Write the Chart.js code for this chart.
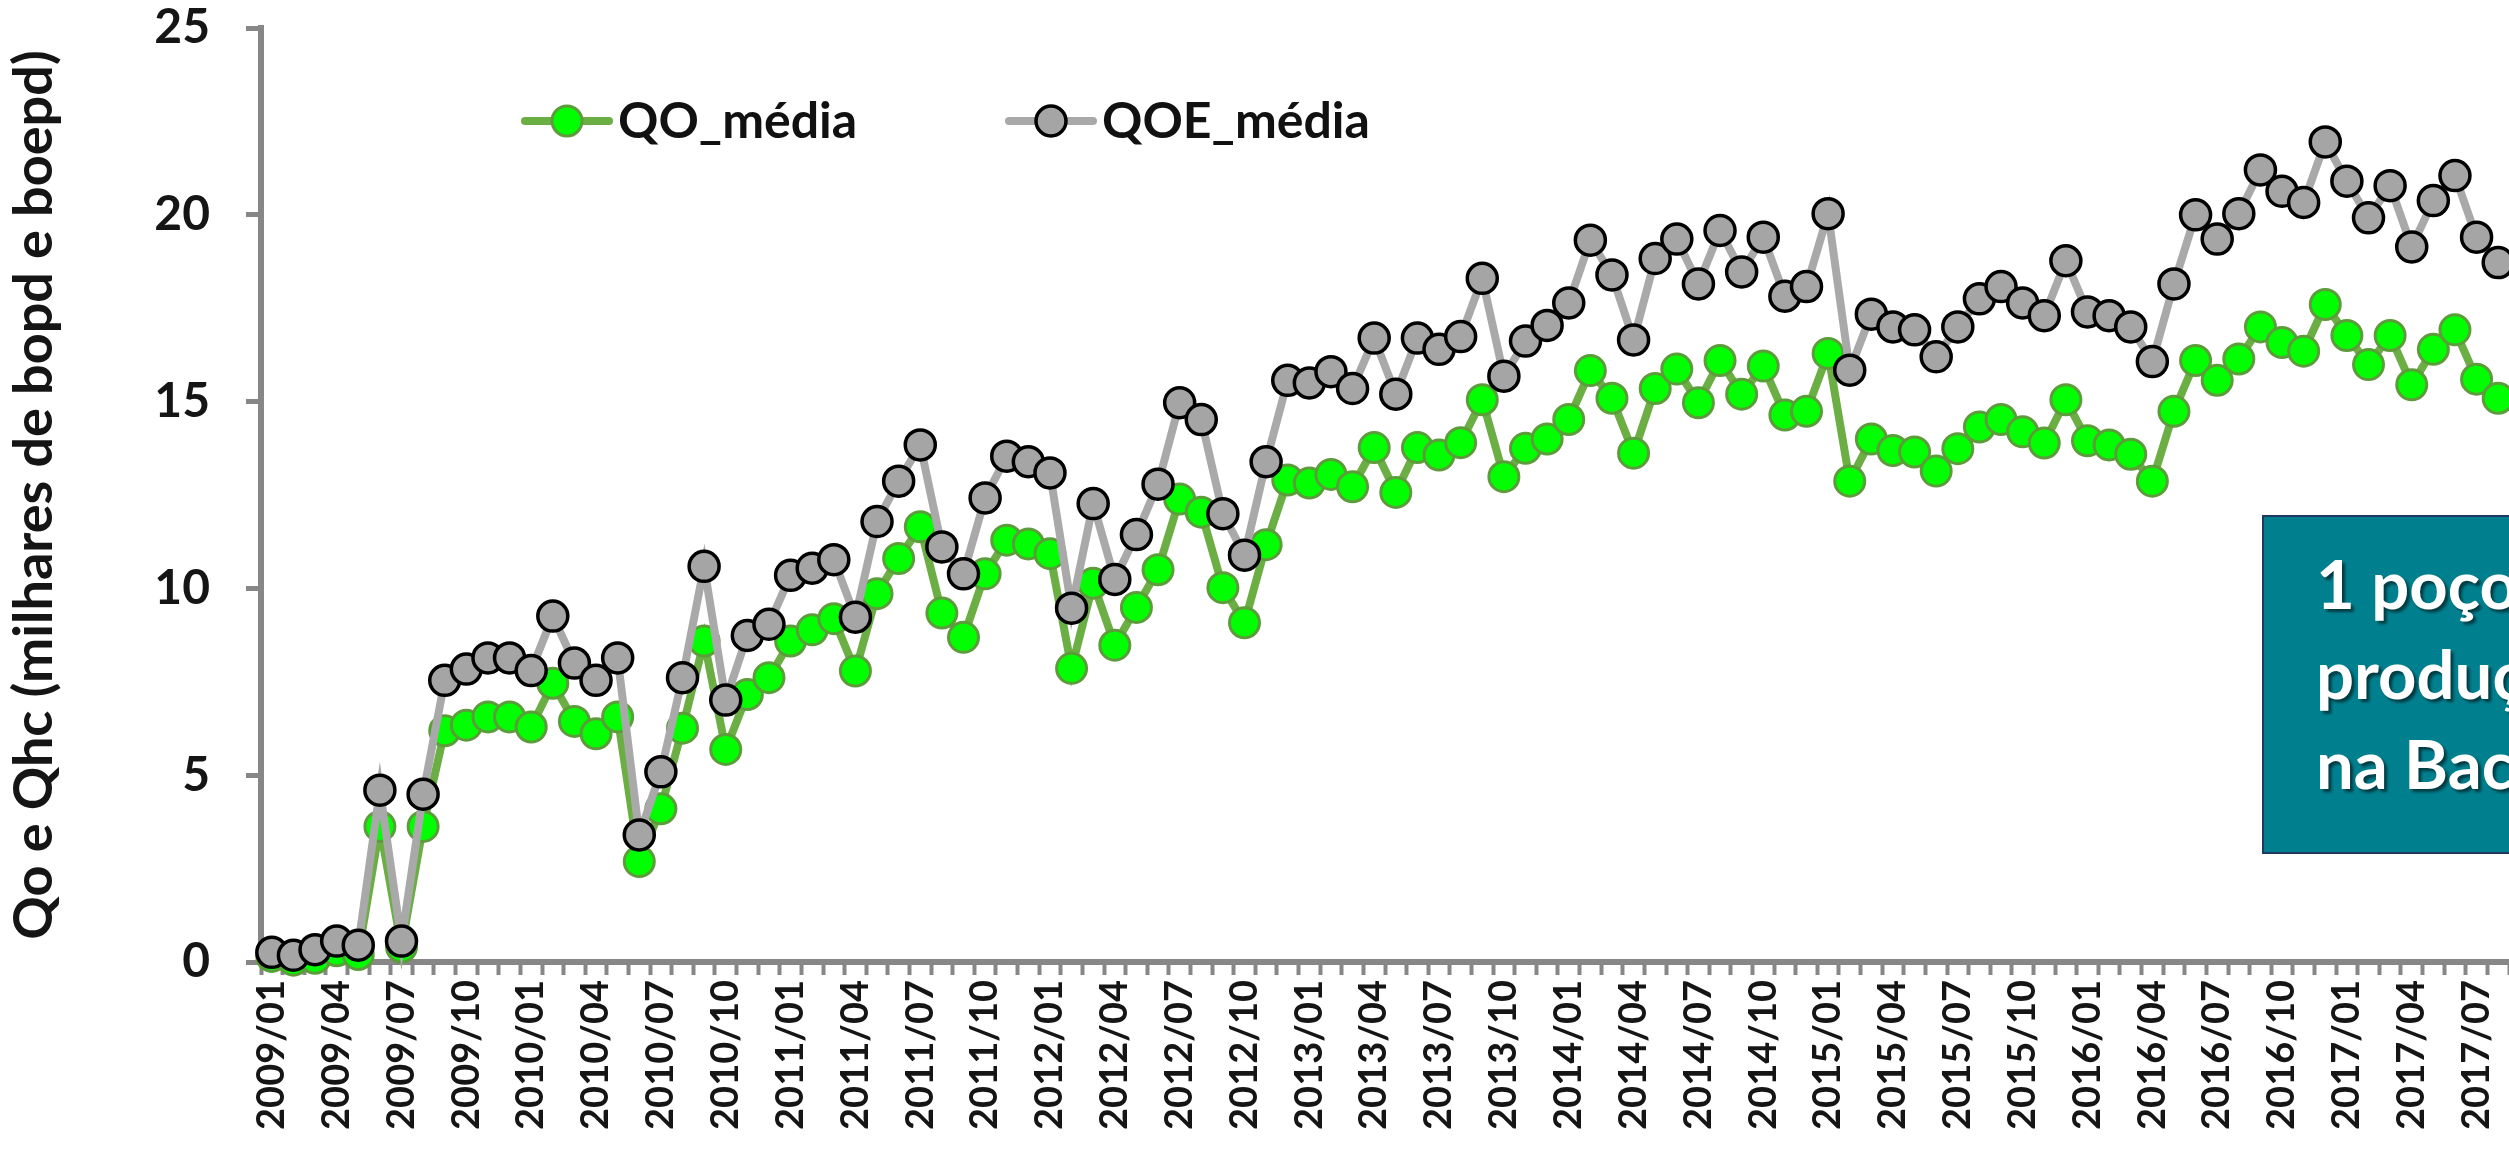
<!DOCTYPE html>
<html lang="pt">
<head>
<meta charset="utf-8">
<style>
  html, body { margin: 0; padding: 0; background: #fff; overflow: hidden; }
  #chart { display: block; }
</style>
<script src="https://cdn.jsdelivr.net/npm/chart.js@4.4.1/dist/chart.umd.min.js"></script>
</head>
<body>
<canvas id="chart" width="2509" height="1153"></canvas>
<script>
// Monthly categories 2009/01 .. 2017/08 (the picture is cut right after 2017/08)
const FIRST_YEAR = 2009;
const MONTH_COUNT = 104;
const months = [];
for (let i = 0; i < MONTH_COUNT; i++) {
    const y = FIRST_YEAR + Math.floor(i / 12);
    const m = (i % 12) + 1;
    months.push(`${y}/${String(m).padStart(2, '0')}`);
}

// QO_média (green) — thousand bopd
const qoMedia = [
    0.15, 0.05, 0.10, 0.30, 0.20, 3.63, 0.40, 3.63, 6.19, 6.34, 6.56, 6.56,
    6.29, 7.46, 6.44, 6.11, 6.56, 2.69, 4.10, 6.26, 8.59, 5.69, 7.16, 7.61,
    8.59, 8.89, 9.19, 7.79, 9.86, 10.80, 11.65, 9.34, 8.69, 10.39, 11.29, 11.19,
    10.93, 7.86, 10.14, 8.48, 9.49, 10.50, 12.39, 12.04, 10.02, 9.08, 11.17, 12.90,
    12.82, 13.05, 12.72, 13.77, 12.57, 13.77, 13.57, 13.90, 15.05, 12.99, 13.75, 14.00,
    14.52, 15.83, 15.09, 13.62, 15.35, 15.87, 14.97, 16.10, 15.20, 15.95, 14.64, 14.74,
    16.29, 12.87, 14.00, 13.69, 13.65, 13.14, 13.74, 14.32, 14.52, 14.19, 13.89, 15.05,
    13.95, 13.84, 13.59, 12.87, 14.74, 16.10, 15.57, 16.14, 17.00, 16.58, 16.35, 17.60,
    16.77, 15.99, 16.77, 15.45, 16.40, 16.92, 15.60, 15.09,
];

// QOE_média (grey) — thousand boepd
const qoeMedia = [
    0.26, 0.18, 0.33, 0.56, 0.45, 4.60, 0.56, 4.49, 7.54, 7.84, 8.14, 8.14,
    7.80, 9.26, 8.00, 7.54, 8.14, 3.40, 5.09, 7.61, 10.59, 7.01, 8.74, 9.04,
    10.35, 10.54, 10.77, 9.23, 11.79, 12.87, 13.84, 11.11, 10.39, 12.42, 13.54, 13.39,
    13.09, 9.47, 12.27, 10.24, 11.44, 12.79, 14.97, 14.52, 12.00, 10.89, 13.39, 15.57,
    15.50, 15.80, 15.35, 16.70, 15.20, 16.70, 16.40, 16.74, 18.30, 15.68, 16.62, 17.04,
    17.64, 19.32, 18.39, 16.65, 18.83, 19.35, 18.15, 19.58, 18.47, 19.40, 17.82, 18.08,
    20.03, 15.84, 17.34, 17.00, 16.92, 16.20, 17.00, 17.75, 18.08, 17.64, 17.30, 18.77,
    17.40, 17.30, 17.00, 16.07, 18.15, 20.00, 19.35, 20.03, 21.20, 20.63, 20.33, 21.95,
    20.90, 19.92, 20.78, 19.14, 20.38, 21.05, 19.40, 18.72,
];

const Y_MIN = 0;
const Y_MAX = 25;
const Y_STEP = 5;
const yTitle = 'Qo e Qhc (milhares de bopd e boepd)';
const noteLines = ['1 poço em', 'produção', 'na Bacia'];

const AXIS_GREY = '#878787';
const FONT = 'Lato, "Open Sans", sans-serif';

// drop the extra room Chart.js reserves for edge labels, so the plot fills the frame
function noEdgePadding(scale) {
    scale.paddingLeft = 0;
    scale.paddingRight = 0;
    scale.paddingTop = 0;
    scale.paddingBottom = 0;
}

// Legend drawn as line + marker + label, like the spreadsheet original
const inlineLegend = {
    id: 'inlineLegend',
    afterDatasetsDraw(chart) {
        const { ctx } = chart;
        const spots = [
            { ds: 1, x1: 525, x2: 609, y: 121, text: 618 },
            { ds: 0, x1: 1009, x2: 1093, y: 121, text: 1102 },
        ];
        ctx.save();
        spots.forEach(s => {
            const d = chart.data.datasets[s.ds];
            ctx.strokeStyle = d.borderColor;
            ctx.lineWidth = d.borderWidth;
            ctx.lineCap = 'round';
            ctx.beginPath();
            ctx.moveTo(s.x1, s.y);
            ctx.lineTo(s.x2, s.y);
            ctx.stroke();
            ctx.beginPath();
            ctx.arc((s.x1 + s.x2) / 2, s.y, d.pointRadius, 0, Math.PI * 2);
            ctx.fillStyle = d.pointBackgroundColor;
            ctx.fill();
            ctx.lineWidth = d.pointBorderWidth;
            ctx.strokeStyle = d.pointBorderColor;
            ctx.stroke();
            ctx.fillStyle = '#111';
            ctx.font = `bold 50px ${FONT}`;
            ctx.textBaseline = 'middle';
            ctx.textAlign = 'left';
            ctx.fillText(d.label, s.text, s.y + 1);
        });
        ctx.restore();
    },
};

// Teal note box at the right, cut by the picture edge
const noteBox = {
    id: 'noteBox',
    afterDraw(chart) {
        const { ctx } = chart;
        ctx.save();
        ctx.fillStyle = '#00808F';
        ctx.fillRect(2263, 516, 400, 337);
        ctx.strokeStyle = '#1F3864';
        ctx.lineWidth = 2;
        ctx.strokeRect(2263, 516, 400, 337);
        ctx.font = `bold 67px ${FONT}`;
        ctx.textBaseline = 'alphabetic';
        ctx.textAlign = 'left';
        ctx.shadowColor = 'rgba(0, 0, 0, 0.55)';
        ctx.shadowOffsetX = 3;
        ctx.shadowOffsetY = 3;
        ctx.shadowBlur = 3;
        ctx.fillStyle = '#ffffff';
        noteLines.forEach((line, i) => ctx.fillText(line, 2316, 609 + i * 90));
        ctx.restore();
    },
};

new Chart(document.getElementById('chart'), {
    type: 'line',
    data: {
        labels: months,
        datasets: [
            {
                label: 'QOE_média',
                data: qoeMedia,
                order: 1,
                borderColor: '#A9A9A9',
                borderWidth: 8,
                pointRadius: 15,
                pointBackgroundColor: '#A5A5A5',
                pointBorderColor: '#000000',
                pointBorderWidth: 3.5,
                tension: 0,
                clip: false,
            },
            {
                label: 'QO_média',
                data: qoMedia,
                order: 2,
                borderColor: '#6AAE44',
                borderWidth: 8,
                pointRadius: 15,
                pointBackgroundColor: '#00FF00',
                pointBorderColor: '#5C9C3A',
                pointBorderWidth: 3,
                tension: 0,
                clip: false,
            },
        ],
    },
    options: {
        responsive: false,
        animation: false,
        devicePixelRatio: 1,
        layout: { autoPadding: false, padding: { top: 28, left: 0, right: 0, bottom: 0 } },
        plugins: {
            legend: { display: false },
            tooltip: { enabled: false },
        },
        scales: {
            x: {
                type: 'category',
                offset: true,
                afterFit(scale) { scale.height = 191; noEdgePadding(scale); },
                border: { display: true, color: AXIS_GREY, width: 6 },
                grid: {
                    offset: true,
                    drawOnChartArea: false,
                    drawTicks: true,
                    tickLength: 13,
                    tickWidth: 4,
                    color: AXIS_GREY,
                },
                ticks: {
                    autoSkip: false,
                    minRotation: 90,
                    maxRotation: 90,
                    padding: 5,
                    color: '#151515',
                    font: { family: FONT, size: 38, weight: 'bold' },
                    callback(value, index) {
                        const m = months[index];
                        return /\/(01|04|07|10)$/.test(m) ? m : '';
                    },
                },
            },
            y: {
                min: Y_MIN,
                max: Y_MAX,
                afterFit(scale) { scale.width = 261; noEdgePadding(scale); },
                border: { display: true, color: AXIS_GREY, width: 6 },
                grid: {
                    drawOnChartArea: false,
                    drawTicks: true,
                    tickLength: 15,
                    tickWidth: 5,
                    color: AXIS_GREY,
                },
                ticks: {
                    stepSize: Y_STEP,
                    padding: 36,
                    color: '#151515',
                    font: { family: FONT, size: 48, weight: 'bold' },
                },
                title: {
                    display: true,
                    text: yTitle,
                    color: '#151515',
                    padding: { top: 2, bottom: 0 },
                    font: { family: FONT, size: 54, weight: 'bold' },
                },
            },
        },
    },
    plugins: [inlineLegend, noteBox],
});
</script>
</body>
</html>
